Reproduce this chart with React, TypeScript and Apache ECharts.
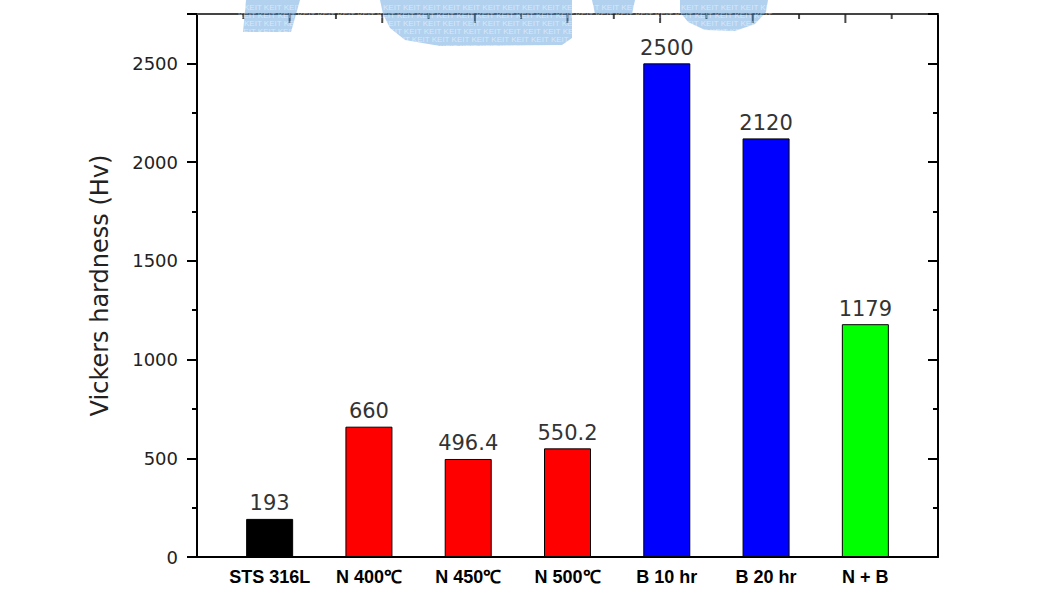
import React, { useEffect, useRef } from "react";
import * as echarts from "echarts";

const categories = ["STS 316L", "N 400℃", "N 450℃", "N 500℃", "B 10 hr", "B 20 hr", "N + B"];
const hardness = [193, 660, 496.4, 550.2, 2500, 2120, 1179];
const barColors = ["#000000", "#ff0000", "#ff0000", "#ff0000", "#0000ff", "#0000ff", "#00ff00"];
const valueLabels = ["193", "660", "496.4", "550.2", "2500", "2120", "1179"];
const yMin = 0;
const yMax = 2750;
const yInterval = 500;
const yTitle = "Vickers hardness (Hv)";
const topMajorTicks = [1, 2, 3, 4, 5, 6, 7];
const topMinorTicks = [0.5, 1.5, 2.5, 3.5, 4.5, 5.5, 6.5, 7.5];
const watermarkWord = "KEIT";

export default function App() {
  const ref = useRef<HTMLDivElement>(null);
  useEffect(() => {
    if (!ref.current) return;
    const chart = echarts.init(ref.current, null, { renderer: "svg" });
    const wmColor = "rgba(61,139,214,0.40)";
    const wmRow = (n: number) => Array(n).fill(watermarkWord).join(" ");
    const wmSegs: [number, number, number][] = [
      [3, 244, 27], [11, 238, 27], [19, 244, 27], [27, 238, 3], [27, 384, 10], [27, 690, 3],
      [35, 392, 9], [43, 420, 7],
    ];
    const wmTexts = wmSegs.map(([y, x, n]) => ({
      type: "text", z: 102, x, y, silent: true,
      style: { text: wmRow(n), fill: "rgba(255,255,255,0.5)", font: "8px Liberation Sans, Arial, sans-serif" },
    }));
    const option: any = {
      animation: false,
      backgroundColor: "#ffffff",
      grid: [
        { left: 197, right: 109, top: 14, bottom: 52, outerBoundsMode: "none" },
        { left: 220, right: 132, top: 14, bottom: 52, outerBoundsMode: "none" },
        { left: 197, right: 109, top: 14, height: 9, outerBoundsMode: "none" },
      ],
      xAxis: [
        {
          gridIndex: 0, type: "value", position: "bottom", min: 0, max: 8, interval: 1,
          axisLine: { show: true, onZero: false, lineStyle: { color: "#000", width: 2 } },
          axisTick: { show: false }, axisLabel: { show: false }, splitLine: { show: false },
        },
        {
          gridIndex: 1, type: "category", data: categories,
          axisLine: { show: false }, axisTick: { show: false },
          axisLabel: {
            margin: 11, color: "#000", fontSize: 18, fontWeight: "bold",
            fontFamily: "Liberation Sans, Arial, sans-serif", interval: 0,
          },
        },
        {
          gridIndex: 2, type: "value", position: "top", min: 0, max: 8, interval: 1,
          axisLine: { show: true, onZero: false, lineStyle: { color: "#444", width: 2 } },
          axisTick: { show: false }, axisLabel: { show: false }, splitLine: { show: false },
        },
      ],
      yAxis: [
        {
          gridIndex: 0, type: "value", min: yMin, max: yMax, interval: yInterval, position: "left",
          name: yTitle, nameLocation: "middle", nameGap: 85,
          nameTextStyle: { fontSize: 24, color: "#222", fontFamily: "DejaVu Sans, sans-serif" },
          axisLine: { show: true, onZero: false, lineStyle: { color: "#000", width: 2 } },
          axisTick: { show: true, inside: false, length: 10, lineStyle: { color: "#000", width: 2 } },
          minorTick: { show: true, splitNumber: 2, length: 5, lineStyle: { color: "#000", width: 2 } },
          axisLabel: {
            showMaxLabel: false, margin: 19, fontSize: 18, color: "#222",
            fontFamily: "DejaVu Sans, sans-serif",
            formatter: (v: number) => String(v),
          },
          splitLine: { show: false },
        },
        {
          gridIndex: 0, type: "value", min: yMin, max: yMax, interval: yInterval, position: "right",
          axisLine: { show: true, onZero: false, lineStyle: { color: "#000", width: 2 } },
          axisTick: { show: true, inside: true, length: 10, lineStyle: { color: "#000", width: 2 } },
          minorTick: { show: true, splitNumber: 2, length: 5, lineStyle: { color: "#000", width: 2 } },
          axisLabel: { show: false }, splitLine: { show: false },
        },
        { gridIndex: 1, type: "value", min: yMin, max: yMax, show: false },
        { gridIndex: 2, type: "value", min: 0, max: 1, show: false },
      ],
      series: [
        {
          type: "bar", xAxisIndex: 1, yAxisIndex: 2, barWidth: 47,
          data: hardness.map((v, i) => ({
            value: v,
            itemStyle: { color: barColors[i], borderColor: "#000", borderWidth: 1 },
          })),
          label: {
            show: true, position: "top", distance: 5, fontSize: 21, color: "#333",
            fontFamily: "DejaVu Sans, sans-serif",
            formatter: (p: any) => valueLabels[p.dataIndex],
          },
        },
        {
          type: "scatter", xAxisIndex: 0, yAxisIndex: 0, silent: true, clip: false,
          symbol: "rect", symbolSize: [2, 9], symbolOffset: [0, 4.5],
          itemStyle: { color: "#1a1a1a" },
          data: topMajorTicks.map((t) => [t, yMax]),
        },
        {
          type: "scatter", xAxisIndex: 0, yAxisIndex: 0, silent: true, clip: false,
          symbol: "rect", symbolSize: [2, 5], symbolOffset: [0, 2.5],
          itemStyle: { color: "#1a1a1a" },
          data: topMinorTicks.map((t) => [t, yMax]),
        },
      ],
      graphic: [
        { type: "polygon", z: 101, silent: true, shape: { points: [[246, 0], [300, 0], [291, 32], [243, 32]] }, style: { fill: wmColor } },
        { type: "polygon", z: 101, silent: true, shape: { points: [[380, 0], [572, 0], [572, 38], [562, 45], [440, 46], [405, 40], [390, 28], [383, 14]] }, style: { fill: wmColor } },
        { type: "polygon", z: 101, silent: true, shape: { points: [[592, 0], [635, 0], [632, 14], [595, 14]] }, style: { fill: wmColor } },
        { type: "polygon", z: 101, silent: true, shape: { points: [[680, 0], [768, 0], [766, 12], [755, 24], [735, 31], [705, 30], [688, 22], [680, 12]] }, style: { fill: wmColor } },
        ...wmTexts,
      ],
    };
    chart.setOption(option);
    return () => chart.dispose();
  }, []);
  return (
    <div
      ref={ref}
      style={{ position: "fixed", left: 0, top: 0, width: 1047, height: 609, background: "#fff" }}
    />
  );
}
